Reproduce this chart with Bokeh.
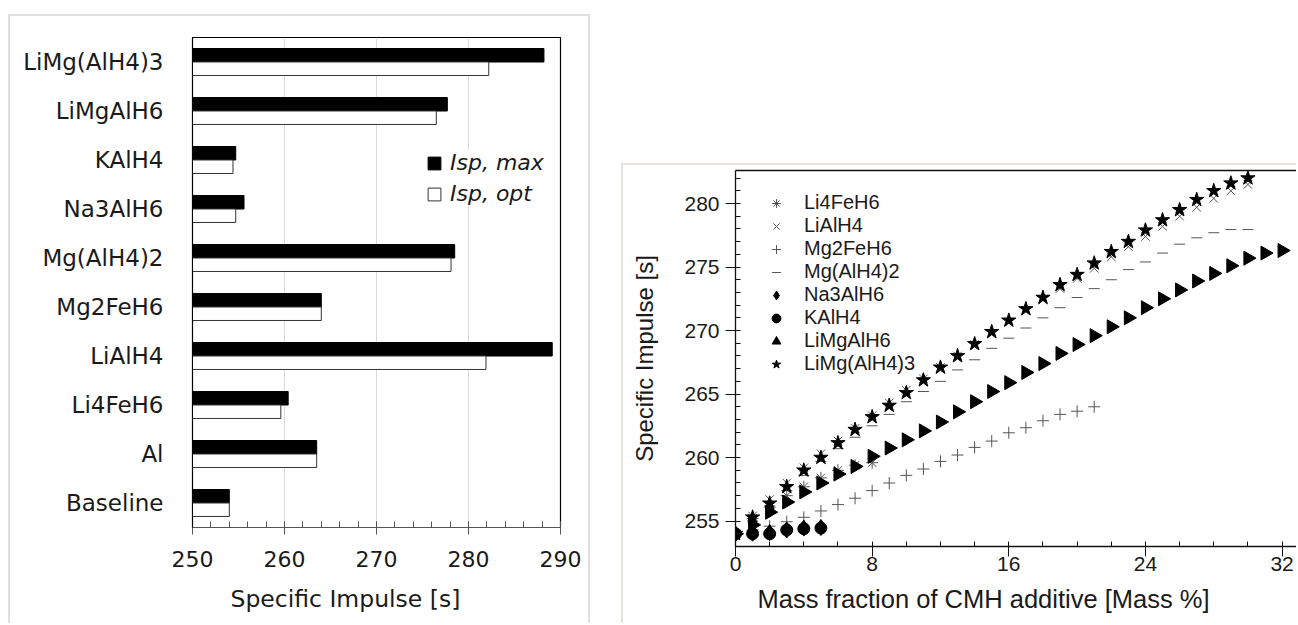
import math

from bokeh.embed import file_html
from bokeh.layouts import column, row
from bokeh.models import (ColumnDataSource, FactorRange, FixedTicker, Legend,
                          LegendItem, LinearAxis, Range1d, SingleIntervalTicker,
                          Spacer, Title)
from bokeh.plotting import figure
from bokeh.resources import INLINE
from bokeh.transform import dodge

# ---------------------------------------------------------------- bar chart data
compounds = ["Baseline", "Al", "Li4FeH6", "LiAlH4", "Mg2FeH6",
             "Mg(AlH4)2", "Na3AlH6", "KAlH4", "LiMgAlH6", "LiMg(AlH4)3"]
isp_max = [254.0, 263.5, 260.4, 289.1, 264.0, 278.5, 255.6, 254.7, 277.7, 288.2]
isp_opt = [254.0, 263.5, 259.6, 281.9, 264.0, 278.1, 254.7, 254.4, 276.5, 282.2]
isp_axis = (250, 290)

# ------------------------------------------------------------ scatter chart data
pct_0_32 = [0, 1, 2, 3, 4, 5, 6, 7, 8, 9, 10, 11, 12, 13, 14, 15, 16,
            17, 18, 19, 20, 21, 22, 23, 24, 25, 26, 27, 28, 29, 30, 31, 32]
pct_0_30 = pct_0_32[:31]
pct_0_21 = pct_0_32[:22]
pct_0_8 = pct_0_32[:9]
pct_0_5 = pct_0_32[:6]

li4feh6 = [254.0, 255.2, 256.1, 257.0, 257.7, 258.4, 259.0, 259.4, 259.6]
lialh4 = [254.0, 255.4, 256.7, 258.0, 259.2, 260.3, 261.3, 262.3, 263.3, 264.3,
          265.3, 266.2, 267.1, 268.0, 268.9, 269.8, 270.7, 271.6, 272.4, 273.3,
          274.1, 274.9, 275.8, 276.6, 277.4, 278.2, 279.0, 279.7, 280.4, 281.0,
          281.5]
mg2feh6 = [254.0, 254.3, 254.6, 254.95, 255.3, 255.8, 256.3, 256.8, 257.4, 258.0,
           258.6, 259.1, 259.7, 260.2, 260.8, 261.3, 261.95, 262.35, 262.9, 263.4,
           263.65, 264.0]
mg_alh4_2 = [254.0, 255.0, 256.2, 257.4, 258.6, 259.7, 260.7, 261.6, 262.5, 263.4,
             264.4, 265.2, 266.0, 266.9, 267.7, 268.6, 269.4, 270.2, 271.0, 271.8,
             272.6, 273.3, 274.0, 274.8, 275.4, 276.1, 276.8, 277.3, 277.7, 277.95,
             277.95]
na3alh6 = [254.0, 254.05, 254.1, 254.3, 254.45, 254.5]
kalh4 = [254.0, 254.0, 254.0, 254.3, 254.4, 254.45]
limgalh6 = [254.0, 254.7, 255.7, 256.5, 257.3, 258.0, 258.7, 259.3, 260.1, 260.75,
            261.4, 262.1, 262.8, 263.6, 264.4, 265.2, 265.9, 266.7, 267.4, 268.2,
            268.9, 269.6, 270.3, 271.0, 271.8, 272.5, 273.2, 273.9, 274.5, 275.1,
            275.7, 276.1, 276.3]
limg_alh4_3 = [254.0, 255.3, 256.4, 257.7, 259.0, 260.0, 261.15, 262.2, 263.2, 264.1,
               265.1, 266.1, 267.1, 268.0, 268.95, 269.9, 270.8, 271.7, 272.6, 273.6,
               274.4, 275.3, 276.2, 277.0, 277.9, 278.7, 279.5, 280.3, 281.0, 281.6,
               282.0]

LEFT_FONT = "DejaVu Sans"
RIGHT_FONT = "Liberation Sans"
INK = "#1a1a1a"

# ================================================================= bar chart
bars = figure(width=582, height=609,
              y_range=FactorRange(*compounds), x_range=Range1d(*isp_axis),
              output_backend="svg", toolbar_location=None,
              min_border_left=182, min_border_right=32,
              min_border_top=21, min_border_bottom=98,
              background_fill_color="white", border_fill_color="white",
              frame_align=False,
              styles={"border-top": "2px solid #e0e0e0",
                      "border-left": "2px solid #e0e0e0",
                      "border-right": "2px solid #e0e0e0"})

src = ColumnDataSource(dict(compound=compounds, isp_max=isp_max, isp_opt=isp_opt))
bar_h = 0.275
r_max = bars.hbar(y=dodge("compound", bar_h / 2, range=bars.y_range),
                  left=isp_axis[0], right="isp_max", height=bar_h, source=src,
                  fill_color="black", line_color="black", line_width=1)
r_opt = bars.hbar(y=dodge("compound", -bar_h / 2, range=bars.y_range),
                  left=isp_axis[0], right="isp_opt", height=bar_h, source=src,
                  fill_color="white", line_color="#333333", line_width=1)

bars.outline_line_color = "black"
bars.outline_line_width = 1.2
bars.ygrid.grid_line_color = None
bars.xgrid.grid_line_color = "#d9d9d9"
bars.xgrid.grid_line_width = 1

xa = bars.xaxis[0]
xa.ticker = SingleIntervalTicker(interval=10, num_minor_ticks=5)
xa.axis_line_color = "#555555"
xa.major_tick_line_color = "#555555"
xa.minor_tick_line_color = "#555555"
xa.major_tick_in = 6
xa.major_tick_out = 7
xa.minor_tick_in = 6
xa.minor_tick_out = 0
xa.major_label_standoff = 16
xa.major_label_text_font = LEFT_FONT
xa.major_label_text_font_size = "22px"
xa.major_label_text_color = INK

ya = bars.yaxis[0]
ya.axis_line_color = "black"
ya.major_tick_line_color = None
ya.minor_tick_line_color = None
ya.major_tick_out = 0
ya.major_tick_in = 0
ya.major_label_standoff = 29
ya.major_label_text_font = LEFT_FONT
ya.major_label_text_font_size = "23px"
ya.major_label_text_color = INK

# x-axis title, below the tick labels and shifted off-centre
bars.add_layout(Title(text="Specific  Impulse [s]", align="left", offset=38,
                      standoff=26, text_font=LEFT_FONT, text_font_size="23.5px",
                      text_font_style="normal", text_color=INK), "below")

bar_legend = Legend(
    items=[LegendItem(label="Isp, max", renderers=[r_max]),
           LegendItem(label="Isp, opt", renderers=[r_opt])],
    location=(234, 321), orientation="vertical",
    glyph_width=16, glyph_height=16, label_height=16, spacing=6,
    padding=10, margin=0, label_standoff=8,
    label_text_font=LEFT_FONT, label_text_font_style="italic",
    label_text_font_size="22px", label_text_color=INK,
    border_line_color=None, background_fill_color="white",
    background_fill_alpha=1.0)
bars.add_layout(bar_legend)

# ============================================================= scatter chart
sc = figure(width=675, height=460,
            x_range=Range1d(0, 32.96), y_range=Range1d(253.0, 282.6),
            output_backend="svg", toolbar_location=None,
            min_border_left=112, min_border_right=0,
            min_border_top=5, min_border_bottom=79,
            background_fill_color="white", border_fill_color="white",
            frame_align=False,
            styles={"border-top": "2px solid #e6e3dc",
                    "border-left": "2px solid #e6e3dc"})
sc.outline_line_color = None
sc.grid.grid_line_color = None

GRAY = "#555555"
series = [
    ("Li4FeH6", pct_0_8, li4feh6, "asterisk", GRAY, 12, 0.0),
    ("LiAlH4", pct_0_30, lialh4, "x", GRAY, 12, 0.0),
    ("Mg2FeH6", pct_0_21, mg2feh6, "cross", GRAY, 12, 0.0),
    ("Mg(AlH4)2", pct_0_30, mg_alh4_2, "dash", GRAY, 11, 0.0),
    ("Na3AlH6", pct_0_5, na3alh6, "diamond", "black", 16, 0.0),
    ("KAlH4", pct_0_5, kalh4, "circle", "black", 12, 0.0),
    ("LiMgAlH6", pct_0_32, limgalh6, "triangle", "black", 14, -math.pi / 2),
    ("LiMg(AlH4)3", pct_0_30, limg_alh4_3, "star", "black", 15, 0.0),
]
items = []
for name, xs, ys, marker, color, size, angle in series:
    r = sc.scatter(xs, ys, marker=marker, size=size, angle=angle,
                   line_color=color, fill_color=color, line_width=1)
    items.append(LegendItem(label=name, renderers=[r]))

sc_legend = Legend(items=items, location=(30, 171), orientation="vertical",
                   glyph_width=22, glyph_height=22, label_height=22, spacing=0,
                   padding=0, margin=0, label_standoff=17,
                   label_text_font=RIGHT_FONT, label_text_font_size="20px",
                   label_text_color=INK, border_line_color=None,
                   background_fill_alpha=0)
sc.add_layout(sc_legend)

sx = sc.xaxis[0]
sx.ticker = SingleIntervalTicker(interval=8, num_minor_ticks=4)
sy = sc.yaxis[0]
sy.ticker = SingleIntervalTicker(interval=5, num_minor_ticks=5)
for ax in (sx, sy):
    ax.axis_line_color = "#111111"
    ax.axis_line_width = 1.3
    ax.major_tick_line_color = "#111111"
    ax.minor_tick_line_color = "#111111"
    ax.major_tick_in = 0
    ax.major_tick_out = 10
    ax.minor_tick_in = 5
    ax.minor_tick_out = 0
    ax.major_label_text_font = RIGHT_FONT
    ax.major_label_text_font_size = "21px"
    ax.major_label_text_color = INK
    ax.axis_label_text_font = RIGHT_FONT
    ax.axis_label_text_font_style = "normal"
    ax.axis_label_text_color = INK
sx.major_label_standoff = 0
sy.major_label_standoff = 6
sy.axis_label = "Specific Impulse [s]"
sy.axis_label_text_font_size = "24px"
sy.axis_label_standoff = 23

sc.add_layout(Title(text="Mass fraction of CMH additive [Mass %]", align="left",
                    offset=22, standoff=18, text_font=RIGHT_FONT,
                    text_font_size="25.5px", text_font_style="normal",
                    text_color=INK), "below")

top_edge = LinearAxis(ticker=FixedTicker(ticks=[]),
                      axis_line_color="#111111", axis_line_width=1.3,
                      major_tick_line_color=None, minor_tick_line_color=None,
                      major_tick_out=0, major_tick_in=0)
sc.add_layout(top_edge, "above")

page = row(Spacer(width=8), column(Spacer(height=14), bars),
           Spacer(width=31), column(Spacer(height=163), sc))
open("out.html", "w").write(file_html(page, INLINE))
